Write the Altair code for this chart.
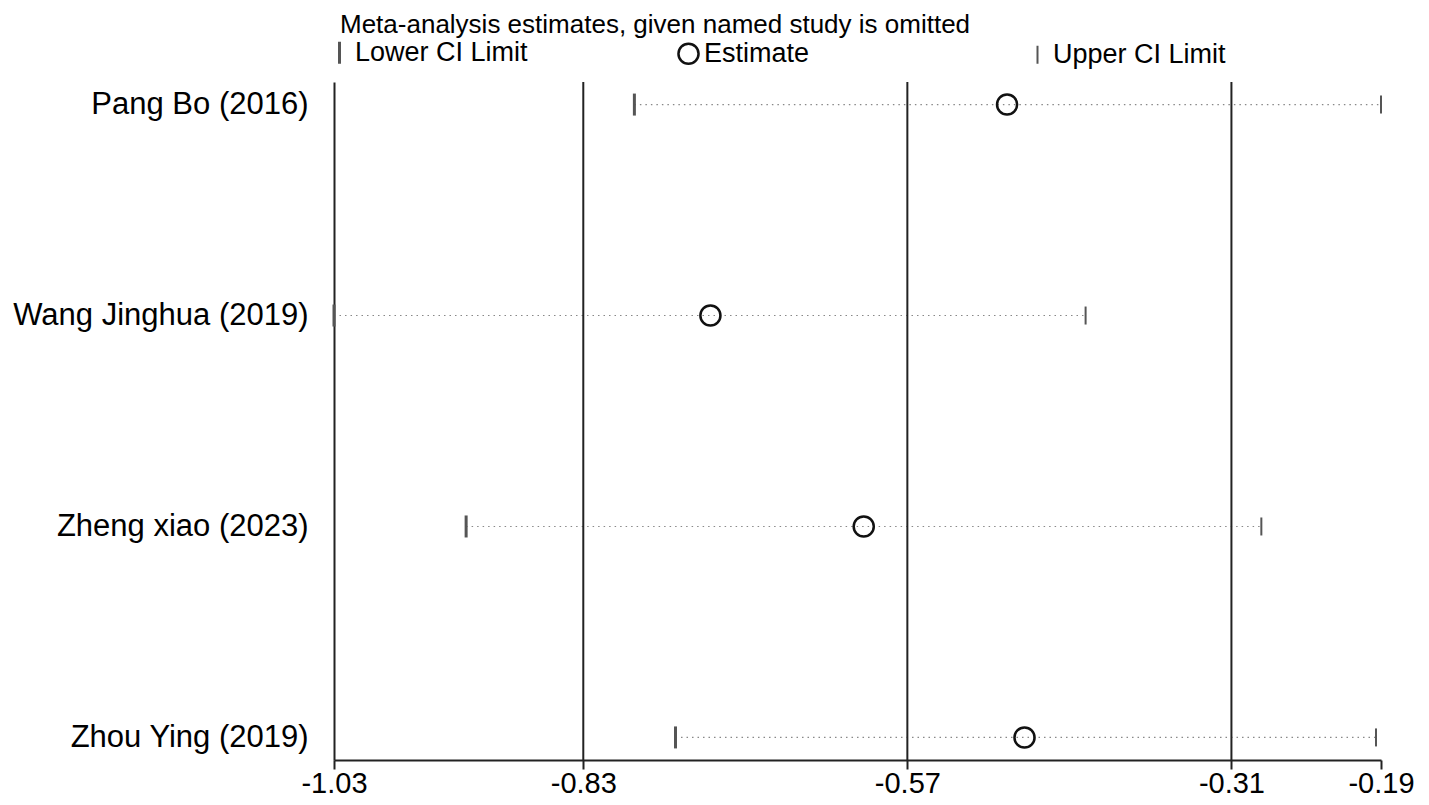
import altair as alt
import pandas as pd

studies = ["Pang Bo (2016)", "Wang Jinghua (2019)", "Zheng xiao (2023)", "Zhou Ying (2019)"]
lower = [-0.789, -1.030, -0.924, -0.756]
estimate = [-0.490, -0.728, -0.605, -0.476]
upper = [-0.190, -0.427, -0.286, -0.194]
ref_lines = [-0.83, -0.57, -0.31]
x_ticks = [-1.03, -0.83, -0.57, -0.31, -0.19]
kinds = ["Lower CI Limit", "Estimate", "Upper CI Limit"]
title_text = "Meta-analysis estimates, given named study is omitted"

FONT = "Liberation Sans"

ci = pd.DataFrame({"study": studies, "lower": lower, "upper": upper})
rows = []
for s, lo, es, up in zip(studies, lower, estimate, upper):
    rows.append({"study": s, "kind": kinds[0], "value": lo})
    rows.append({"study": s, "kind": kinds[1], "value": es})
    rows.append({"study": s, "kind": kinds[2], "value": up})
pts = pd.DataFrame(rows)
refs = pd.DataFrame({"v": ref_lines})

xscale = alt.Scale(domain=[-1.03, -0.19], nice=False, zero=False)
yscale = alt.Scale(type="point", domain=studies, padding=0.107)

xaxis = alt.Axis(values=x_ticks, labelExpr="replace(format(datum.value, '.2f'), '\u2212', '-')",
                 grid=False, title=None,
                 labelFontSize=29, labelFont=FONT, labelColor="#000",
                 tickSize=9, tickWidth=2, tickColor="#222",
                 domainWidth=2, domainColor="#222", labelPadding=0,
                 labelFlush=False, labelOverlap=False)
yaxis = alt.Axis(title=None, ticks=False, grid=False, labelFontSize=31, labelFont=FONT,
                 labelColor="#000", labelPadding=26, labelLimit=0,
                 domainWidth=2, domainColor="#222")

legend = alt.Legend(title=None, orient="none", legendX=-8, legendY=-43,
                    direction="horizontal", columns=3, gridAlign="all",
                    columnPadding=145, symbolSize=240, symbolStrokeWidth=2.5,
                    labelFontSize=27, labelFont=FONT, labelColor="#000", labelLimit=0,
                    labelOffset=2, symbolOffset=0)

refl = alt.Chart(refs).mark_rule(color="#222", strokeWidth=2).encode(
    x=alt.X("v:Q", scale=xscale, axis=xaxis)
)

dots = alt.Chart(ci).mark_rule(color="#888", strokeWidth=1.2, strokeDash=[1.5, 4]).encode(
    x=alt.X("lower:Q", scale=xscale, axis=xaxis),
    x2="upper:Q",
    y=alt.Y("study:N", scale=yscale, axis=yaxis, sort=studies),
)

tick_path = "M0,-1L0,1"
marks = alt.Chart(pts).mark_point(filled=False, opacity=1).encode(
    x=alt.X("value:Q", scale=xscale, axis=xaxis),
    y=alt.Y("study:N", scale=yscale, axis=yaxis, sort=studies),
    shape=alt.Shape("kind:N", scale=alt.Scale(domain=kinds, range=[tick_path, "circle", tick_path]),
                    legend=legend),
    color=alt.Color("kind:N", scale=alt.Scale(domain=kinds, range=["#555", "#111", "#555"]),
                    legend=legend),
    size=alt.Size("kind:N", scale=alt.Scale(domain=kinds, range=[484, 324, 484]), legend=None),
    strokeWidth=alt.StrokeWidth("kind:N", scale=alt.Scale(domain=kinds, range=[3, 2, 3]), legend=None),
)

chart = alt.layer(dots, refl, marks).properties(
    width=1047, height=678,
    title=alt.TitleParams(title_text, anchor="start", frame="group", fontSize=26, font=FONT,
                          fontWeight="normal", color="#000", offset=2, dx=6, dy=1),
    autosize=alt.AutoSizeParams(type="none"),
    padding={"left": 326, "top": 74, "right": 40, "bottom": 37},
).configure_view(stroke=None)

chart.save("out.html", embed_options={"renderer": "svg", "actions": False})
